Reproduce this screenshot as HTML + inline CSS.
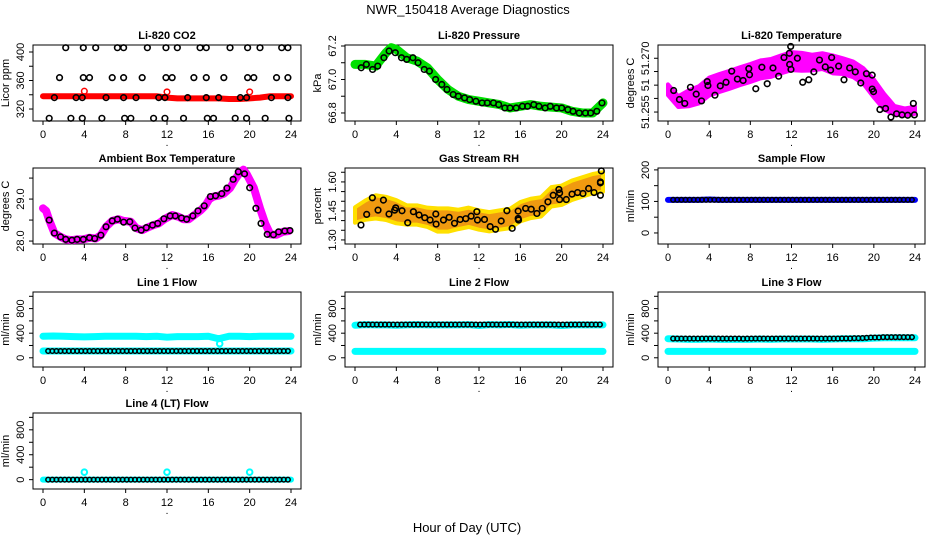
<!DOCTYPE html>
<html><head><meta charset="utf-8">
<style>
html,body{margin:0;padding:0;background:#fff;}
svg{display:block;font-family:"Liberation Sans",Arial,sans-serif;}
</style></head>
<body>
<svg id="chart" width="936" height="540" viewBox="0 0 936 540" xmlns="http://www.w3.org/2000/svg">
<text x="468" y="14" text-anchor="middle" font-size="13">NWR_150418  Average Diagnostics</text>
<text x="467" y="532" text-anchor="middle" font-size="13">Hour of Day (UTC)</text>
</svg>
<script>
// ---------- data ----------
const xTicks = [0,4,8,12,16,20,24];
const xTickLabels = ["0","4","8","12","16","20","24"];
const hourGrid = [0,1,2,3,4,5,6,7,8,9,10,11,12,13,14,15,16,17,18,19,20,21,22,23,24];

// CO2
const co2RedY = [338,338,338,338,338,338,338,338,338,338,338,338,336,335,335,335,335,335,334,334,335,336,338,338,338];
const co2RedOutX = [4,12,20];
const co2RedOutY = [345,344,344];
const co2BlackX = [2.2,3.9,5.1,7.2,7.8,10.1,11.9,13.0,15.2,15.8,18.1,19.8,21.0,23.1,23.7,
 1.6,3.9,4.5,6.7,7.8,9.6,11.9,12.5,14.6,15.8,17.5,19.8,20.4,22.6,23.7,
 1.1,3.2,3.8,6.1,7.8,9.0,11.2,11.8,14.0,15.8,17.0,19.1,19.7,22.1,23.7,
 0.6,2.7,3.8,5.7,7.9,8.5,10.7,11.8,13.6,15.9,16.5,18.6,19.7,21.5,23.8];
const co2BlackY = [406,406,406,406,406,406,406,406,406,406,406,406,406,406,406,
 364,364,364,364,364,364,364,364,364,364,364,364,364,364,364,
 336,336,336,336,336,336,336,336,336,336,336,336,336,336,336,
 307,307,307,307,307,307,307,307,307,307,307,307,307,307,307];

// Pressure
const presGreenX = [0,1,2,3,3.5,4,5,6,7,8,9,10,11,12,13,14,15,16,17,18,19,20,21,22,23,23.5,24];
const presGreenY = [67.09,67.09,67.08,67.16,67.19,67.18,67.13,67.11,67.07,67.0,66.94,66.9,66.88,66.87,66.86,66.85,66.83,66.84,66.85,66.84,66.835,66.83,66.81,66.8,66.8,66.83,66.86];
const blackX = [0.6,1.1,1.7,2.2,2.8,3.3,3.9,4.5,5.0,5.6,6.1,6.7,7.2,7.8,8.4,8.9,9.5,10.0,10.6,11.1,11.7,12.3,12.8,13.4,13.9,14.5,15.0,15.6,16.2,16.7,17.3,17.8,18.4,18.9,19.5,20.0,20.6,21.1,21.7,22.3,22.8,23.4,23.9];
const presBlackY = [67.07,67.09,67.06,67.08,67.13,67.17,67.16,67.13,67.12,67.13,67.10,67.06,67.05,67.0,66.97,66.94,66.91,66.90,66.89,66.88,66.87,66.86,66.86,66.86,66.85,66.83,66.83,66.83,66.84,66.84,66.85,66.84,66.83,66.84,66.83,66.83,66.82,66.81,66.80,66.8,66.8,66.81,66.86];

// Li-820 temperature
const ltMagY = [51.2612,51.2579,51.2588,51.2598,51.2621,51.2631,51.2640,51.2650,51.2659,51.2669,51.2673,51.2683,51.2692,51.2690,51.2688,51.2692,51.2683,51.2678,51.2669,51.2650,51.2616,51.2579,51.2555,51.2550,51.2555];
const ltMagSpread = [0.0015,0.0015,0.0022,0.0024,0.0025,0.0025,0.0025,0.0025,0.0025,0.0025,0.0025,0.0025,0.0025,0.0025,0.0022,0.0022,0.0025,0.0022,0.0022,0.0022,0.0025,0.0022,0.0012,0.0010,0.0010];
const ltBlackX = [0.55,1.11,1.63,2.18,2.74,3.26,3.81,3.88,4.56,5.08,5.64,6.19,6.74,7.30,7.85,7.92,8.53,9.12,9.64,10.2,10.75,11.27,11.79,11.92,11.82,11.95,12.57,13.09,13.68,14.17,14.72,15.28,15.8,15.9,16.58,17.1,17.65,18.2,18.73,19.28,19.84,19.84,19.97,20.59,21.14,21.66,22.21,22.74,23.29,23.84,23.94];
const ltBlackY = [51.2610,51.2585,51.2574,51.2619,51.2600,51.2581,51.2635,51.2624,51.2597,51.2623,51.2633,51.2664,51.2642,51.2638,51.2671,51.2654,51.2615,51.2675,51.2629,51.2673,51.2650,51.2702,51.2714,51.2733,51.2683,51.2669,51.2700,51.2633,51.2640,51.2662,51.2695,51.2676,51.2667,51.2702,51.2678,51.2640,51.2673,51.2662,51.2631,51.2657,51.2653,51.2614,51.2607,51.2557,51.2560,51.2536,51.2545,51.2542,51.2541,51.2574,51.2542];

// Ambient box temperature
const ambMagX = [0,0.3,0.6,1.1,1.7,2.2,2.8,3.3,3.9,4.5,5.1,5.6,6.1,6.7,7.3,7.8,8.5,9.0,9.6,10.1,10.7,11.2,11.8,12.5,13.1,13.6,14.1,14.6,15.2,15.7,16.1,16.5,17.0,17.5,18.1,18.6,19.1,19.4,19.7,20.4,21.0,21.5,22.0,22.6,23.2,23.8];
const ambMagY = [28.78,28.72,28.5,28.19,28.1,28.04,28.02,28.04,28.04,28.08,28.06,28.14,28.34,28.48,28.52,28.48,28.46,28.31,28.26,28.32,28.38,28.42,28.53,28.62,28.58,28.52,28.52,28.61,28.72,28.84,29.0,29.06,29.08,29.13,29.26,29.47,29.65,29.7,29.6,29.27,28.78,28.42,28.16,28.15,28.22,28.24];
const ambBlackY = [28.5,28.19,28.1,28.04,28.02,28.04,28.04,28.08,28.06,28.14,28.34,28.48,28.52,28.45,28.46,28.31,28.26,28.32,28.38,28.42,28.53,28.6,28.6,28.55,28.52,28.6,28.72,28.84,29.06,29.08,29.13,29.26,29.47,29.65,29.6,29.27,28.78,28.42,28.16,28.15,28.22,28.24,28.25];

// Gas stream RH
const rhOrY = [1.429,1.454,1.471,1.463,1.446,1.429,1.429,1.417,1.403,1.403,1.406,1.417,1.403,1.394,1.403,1.411,1.446,1.463,1.471,1.523,1.531,1.557,1.574,1.591,1.600];
const rhOrSpread = [0.04,0.05,0.06,0.06,0.06,0.05,0.05,0.05,0.06,0.06,0.05,0.05,0.05,0.05,0.05,0.05,0.05,0.05,0.05,0.05,0.05,0.05,0.05,0.05,0.05];
const rhBlackX = [0.58,1.13,1.68,2.23,2.75,3.29,3.84,3.94,4.55,5.10,5.65,6.20,6.75,7.27,7.82,7.85,8.56,9.11,9.63,10.17,10.72,11.24,11.79,11.85,12.53,13.08,13.60,14.15,14.70,15.21,15.79,15.79,15.83,16.51,17.05,17.60,18.12,18.67,19.18,19.73,19.80,19.80,20.45,21.0,21.54,22.06,22.61,23.13,23.75,23.75,23.75,23.84];
const rhBlackY = [1.377,1.432,1.518,1.454,1.506,1.434,1.454,1.466,1.451,1.389,1.446,1.429,1.415,1.403,1.434,1.382,1.403,1.417,1.386,1.406,1.410,1.423,1.446,1.403,1.406,1.369,1.355,1.398,1.451,1.360,1.449,1.411,1.403,1.463,1.459,1.437,1.463,1.497,1.531,1.561,1.543,1.509,1.509,1.537,1.545,1.540,1.566,1.545,1.531,1.600,1.595,1.657];

// Flows
const flowX = [0.5,0.9,1.3,1.7,2.1,2.5,2.9,3.3,3.7,4.1,4.5,4.9,5.3,5.7,6.1,6.5,6.9,7.3,7.7,8.1,8.5,8.9,9.3,9.7,10.1,10.5,10.9,11.3,11.7,12.1,12.5,12.9,13.3,13.7,14.1,14.5,14.9,15.3,15.7,16.1,16.5,16.9,17.3,17.7,18.1,18.5,18.9,19.3,19.7,20.1,20.5,20.9,21.3,21.7,22.1,22.5,22.9,23.3,23.7];
const sampleBlackY = [105,105,105,105,105,105,105,105,105,105,105,105,105,105,105,105,105,105,105,105,105,105,105,105,105,105,105,105,105,105,105,105,105,105,105,105,105,105,105,105,105,105,105,105,105,105,105,105,105,105,105,105,105,105,105,105,105,105,105];
const sampleBlueY = [105,105,105,105,106,105,105,105,105,105,105,105,105,105,105,105,105,105,105,105,105,105,105,105,105];
const line1BlackY = [110,110,110,110,110,110,110,110,110,110,110,110,110,110,110,110,110,110,110,110,110,110,110,110,110,110,110,110,110,110,110,110,110,110,110,110,110,110,110,110,110,110,110,110,110,110,110,110,110,110,110,110,110,110,110,110,110,110,110];
const line1CyanHi = [350,355,350,345,340,345,350,350,350,350,345,350,335,345,345,345,350,310,350,350,345,350,350,350,350];
const line1CyanLo = [110,110,110,110,110,110,110,110,110,110,110,110,110,110,110,110,110,110,110,110,110,110,110,110,110];
const line1CyanOutX = [17.1];
const line1CyanOutY = [230];
const line2BlackY = [540,540,540,540,540,540,540,540,540,540,540,540,540,540,540,540,540,540,540,540,540,540,540,540,540,540,540,540,540,540,540,540,540,540,540,540,540,540,540,540,540,540,540,540,540,540,540,540,540,540,540,540,540,540,540,540,540,540,540];
const line2CyanHi = [530,540,535,535,530,535,540,535,535,535,535,540,525,540,535,540,530,535,535,535,525,535,535,535,535];
const line2CyanLo = [104,104,104,104,104,104,104,104,104,104,104,104,104,104,104,104,104,104,104,104,104,104,104,104,104];
const line3BlackY = [312,312,312,312,312,312,312,312,312,312,312,312,312,312,312,312,312,310,312,312,312,312,312,312,312,312,312,312,312,312,312,312,312,312,312,312,312,312,312,312,312,315,315,315,318,318,320,325,330,330,330,335,335,335,335,335,335,335,335];
const line3CyanHi = [310,305,300,300,305,300,300,300,300,305,300,305,305,305,305,300,305,310,310,310,320,325,325,325,325];
const line3CyanLo = [104,104,104,104,104,104,104,104,104,104,104,104,104,104,104,104,104,104,104,104,104,104,104,104,104];
const line4BlackY = [0,0,0,0,0,0,0,0,0,0,0,0,0,0,0,0,0,0,0,0,0,0,0,0,0,0,0,0,0,0,0,0,0,0,0,0,0,0,0,0,0,0,0,0,0,0,0,0,0,0,0,0,0,0,0,0,0,0,0];
const line4CyanY = [0,0,0,0,0,0,0,0,0,0,0,0,0,0,0,0,0,0,0,0,0,0,0,0,0];
const line4CyanOutX = [4,12,20];
const line4CyanOutY = [120,120,120];

const flowTicks = [0,200,400,600,800,1000];
const flowTickLabels = ["0","","400","","800",""];

// ---------- drawing ----------
const NS = "http://www.w3.org/2000/svg";
const svg = document.getElementById("chart");
const COLS = [{x0:43,x1:291,bl:33,br:301},{x0:355,x1:603,bl:345,br:613},{x0:668,x1:915,bl:658,br:925}];
const ROWS = [{t:45,b:121},{t:168,b:244},{t:292,b:367},{t:413,b:489}];

function mk(tag, attrs, parent){
  const e = document.createElementNS(NS, tag);
  for (const k in attrs) e.setAttribute(k, attrs[k]);
  (parent||svg).appendChild(e);
  return e;
}

function panel(name, col, row, title, ylab, ylim, yticks, ylabels){
  const C = COLS[col], R = ROWS[row];
  const g = mk("g", {});
  
  
  const sx = h => C.x0 + (h/24)*(C.x1 - C.x0);
  const sy = v => R.b - (v - ylim[0])/(ylim[1]-ylim[0])*(R.b - R.t);
  const t = mk("text", {x:(C.bl+C.br)/2, y:R.t-6, "text-anchor":"middle", "font-size":"11", "font-weight":"bold"}, g);
  t.textContent = title;
  
  
  const box = mk("rect", {x:C.bl, y:R.t, width:C.br-C.bl, height:R.b-R.t, fill:"none", stroke:"#000", "stroke-width":"1"}, g);
  
  
  const xa = mk("g", {}, g);
  
  
  xTicks.forEach((v,i) => {
    mk("line", {x1:sx(v), x2:sx(v), y1:R.b, y2:R.b+4, stroke:"#000"}, xa);
    const l = mk("text", {x:sx(v), y:R.b+17, "text-anchor":"middle", "font-size":"11"}, xa);
    l.textContent = xTickLabels[i];
  });
  const dot = mk("text", {x:sx(12), y:R.b+25, "text-anchor":"middle", "font-size":"10"}, xa);
  dot.textContent = ".";
  const ya = mk("g", {}, g);
  
  
  yticks.forEach((v,i) => {
    mk("line", {x1:C.bl-4, x2:C.bl, y1:sy(v), y2:sy(v), stroke:"#000"}, ya);
    if (ylabels[i]) {
      const l = mk("text", {x:0, y:0, "text-anchor":"middle", "font-size":"11", transform:`translate(${C.bl-9},${sy(v)}) rotate(-90)`}, ya);
      l.textContent = ylabels[i];
    }
  });
  const yt = mk("text", {x:0, y:0, "text-anchor":"middle", "font-size":"11", transform:`translate(${C.bl-24},${(R.t+R.b)/2}) rotate(-90)`}, g);
  yt.textContent = ylab;
  
  
  const marks = mk("g", {}, g);
  
  
  return {sx, sy, g:marks};
}

function band(P, xs, ys, color, w, name){
  const p = mk("polyline", {points: xs.map((x,i)=>P.sx(x)+","+P.sy(ys[i])).join(" "), fill:"none", stroke:color, "stroke-width":w, "stroke-linejoin":"round", "stroke-linecap":"round"}, P.g);
  
  
}
function spreadBand(P, xs, ys, sp, fill, stroke, name){
  const up = xs.map((x,i)=>P.sx(x)+","+P.sy(ys[i]+sp[i]));
  const dn = xs.map((x,i)=>P.sx(x)+","+P.sy(ys[i]-sp[i])).reverse();
  const p = mk("polygon", {points: up.concat(dn).join(" "), fill:fill, stroke:stroke, "stroke-width":"4", "stroke-linejoin":"round"}, P.g);
  
  
}
function pts(P, xs, ys, color, r, sw, name){
  const grp = mk("g", {}, P.g);
  
  
  xs.forEach((x,i) => {
    mk("circle", {cx:P.sx(x), cy:P.sy(ys[i]), r:r, fill:"none", stroke:color, "stroke-width":sw}, grp);
  });
}

// Row 1
let P = panel("co2", 0, 0, "Li-820 CO2", "Licor ppm", [303.2,409.8], [320,340,360,380,400], ["320","","360","","400"]);
band(P, hourGrid, co2RedY, "#ff0000", 6, "co2-red-series");
pts(P, co2RedOutX, co2RedOutY, "#ff0000", 2.8, 1.5, "co2-red-outliers");
pts(P, co2BlackX, co2BlackY, "#000", 2.8, 1.6, "co2-hourly-points");

P = panel("pressure", 1, 0, "Li-820 Pressure", "kPa", [66.752,67.206], [66.8,66.9,67.0,67.1,67.2], ["66.8","","67.0","","67.2"]);
band(P, presGreenX, presGreenY, "#00e000", 9, "pressure-green-series");
pts(P, blackX, presBlackY, "#000", 2.8, 1.6, "pressure-hourly-points");

P = panel("li-temp", 2, 0, "Li-820 Temperature", "degrees C", [51.2525,51.2737], [51.255,51.2588,51.2625,51.2663,51.27], ["51.255","","51","","51.270"]);
spreadBand(P, hourGrid, ltMagY, ltMagSpread, "#ff00ff", "#ff00ff", "li-temp-magenta-series");
pts(P, ltBlackX, ltBlackY, "#000", 2.8, 1.6, "li-temp-hourly-points");

// Row 2
P = panel("ambient", 0, 1, "Ambient Box Temperature", "degrees C", [27.93,29.74], [28,28.5,29,29.5], ["28.0","","29.0",""]);
band(P, ambMagX, ambMagY, "#ff00ff", 8, "ambient-magenta-series");
pts(P, blackX, ambBlackY, "#000", 2.8, 1.6, "ambient-hourly-points");

P = panel("rh", 1, 1, "Gas Stream RH", "percent", [1.279,1.672], [1.30,1.35,1.40,1.45,1.50,1.55,1.60,1.65], ["1.30","","","1.45","","","1.60",""]);
spreadBand(P, hourGrid, rhOrY, rhOrSpread, "#f09a10", "#ffe000", "rh-orange-series");
pts(P, rhBlackX, rhBlackY, "#000", 2.8, 1.6, "rh-hourly-points");

P = panel("sample-flow", 2, 1, "Sample Flow", "ml/min", [-35,206], [0,50,100,150,200], ["0","","100","","200"]);
band(P, hourGrid, sampleBlueY, "#0000ff", 6, "sample-flow-blue-series");
pts(P, flowX, sampleBlackY, "#000", 2.3, 1.5, "sample-flow-hourly-points");

// Row 3
P = panel("line1-flow", 0, 2, "Line 1 Flow", "ml/min", [-150,1070], flowTicks, flowTickLabels);
band(P, hourGrid, line1CyanHi, "#00ffff", 7, "line1-cyan-high-series");
band(P, hourGrid, line1CyanLo, "#00ffff", 7, "line1-cyan-low-series");
pts(P, line1CyanOutX, line1CyanOutY, "#00ffff", 2.8, 2, "line1-cyan-outlier");
pts(P, flowX, line1BlackY, "#000", 2.3, 1.5, "line1-hourly-points");

P = panel("line2-flow", 1, 2, "Line 2 Flow", "ml/min", [-150,1070], flowTicks, flowTickLabels);
band(P, hourGrid, line2CyanHi, "#00ffff", 7, "line2-cyan-high-series");
band(P, hourGrid, line2CyanLo, "#00ffff", 7, "line2-cyan-low-series");
pts(P, flowX, line2BlackY, "#000", 2.3, 1.5, "line2-hourly-points");

P = panel("line3-flow", 2, 2, "Line 3 Flow", "ml/min", [-150,1070], flowTicks, flowTickLabels);
band(P, hourGrid, line3CyanHi, "#00ffff", 7, "line3-cyan-high-series");
band(P, hourGrid, line3CyanLo, "#00ffff", 7, "line3-cyan-low-series");
pts(P, flowX, line3BlackY, "#000", 2.3, 1.5, "line3-hourly-points");

// Row 4
P = panel("line4-flow", 0, 3, "Line 4 (LT) Flow", "ml/min", [-150,1070], flowTicks, flowTickLabels);
band(P, hourGrid, line4CyanY, "#00ffff", 6, "line4-cyan-series");
pts(P, line4CyanOutX, line4CyanOutY, "#00ffff", 2.8, 2, "line4-cyan-outliers");
pts(P, flowX, line4BlackY, "#000", 2.3, 1.5, "line4-hourly-points");
</script>
</body></html>
